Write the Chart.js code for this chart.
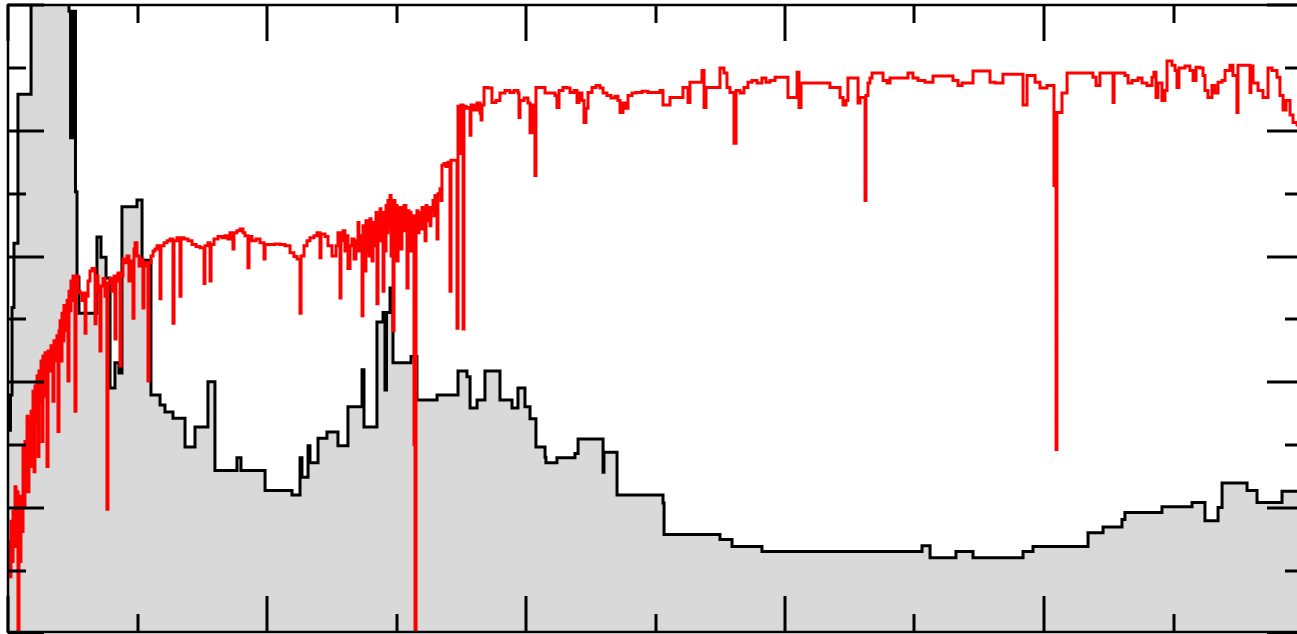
<!DOCTYPE html>
<html>
<head>
<meta charset="utf-8">
<script src="https://cdn.jsdelivr.net/npm/chart.js@4/dist/chart.umd.min.js"></script>
<style>
  html, body { margin: 0; padding: 0; background: #ffffff; overflow: hidden; }
  #wrap { position: absolute; left: 0; top: 0; width: 1305px; height: 634px; }
</style>
</head>
<body>
<div id="wrap"><canvas id="chart"></canvas></div>
<script>
// Axis tick positions (no labels are drawn; even values get long ticks)
const xTickValues = [0, 1, 2, 3, 4, 5, 6, 7, 8, 9, 10];
const yTickValues = [0, 1, 2, 3, 4, 5, 6, 7, 8, 9, 10];

// Grey histogram: each x is where a new level starts
const histX = [
  0, 0.019, 0.031, 0.046, 0.077, 0.178, 0.471, 0.483, 0.490, 0.502,
  0.510, 0.521, 0.533, 0.548, 0.687, 0.718, 0.757, 0.788, 0.826, 0.857,
  0.880, 0.996, 1.035, 1.104, 1.174, 1.212, 1.274, 1.367, 1.444, 1.544,
  1.598, 1.768, 1.799, 1.985, 2.193, 2.255, 2.270, 2.317, 2.332, 2.394,
  2.463, 2.548, 2.625, 2.734, 2.749, 2.849, 2.896, 2.911, 2.923, 2.950,
  2.973, 3.112, 3.158, 3.313, 3.475, 3.544, 3.568, 3.622, 3.683, 3.799,
  3.892, 3.938, 3.992, 4.031, 4.077, 4.147, 4.154, 4.239, 4.378, 4.402,
  4.595, 4.602, 4.703, 5.058, 5.066, 5.498, 5.591, 5.822, 7.058, 7.120,
  7.320, 7.452, 7.838, 7.915, 8.340, 8.456, 8.602, 8.625, 8.911, 9.143,
  9.243, 9.344, 9.375, 9.568, 9.645, 9.838, 10.0
];
const histY = [
  3.24, 3.80, 5.19, 6.21, 8.58, 10.6, 9.90, 7.89, 9.90, 7.89,
  9.90, 7.03, 5.67, 5.10, 6.31, 5.99, 5.66, 3.91, 4.31, 4.15,
  6.79, 6.90, 5.94, 3.80, 3.64, 3.53, 3.43, 2.97, 3.29, 4.01,
  2.60, 2.80, 2.60, 2.28, 2.21, 2.80, 2.49, 2.99, 2.72, 3.11,
  3.21, 2.99, 3.61, 4.20, 3.29, 4.96, 5.11, 3.88, 5.11, 5.50,
  4.31, 4.41, 3.72, 3.80, 4.18, 4.09, 3.59, 3.72, 4.18, 3.72,
  3.59, 3.91, 3.61, 3.42, 2.97, 2.81, 2.72, 2.80, 2.87, 3.10,
  2.57, 2.89, 2.21, 2.08, 1.58, 1.50, 1.39, 1.31, 1.40, 1.21,
  1.31, 1.21, 1.31, 1.39, 1.61, 1.70, 1.82, 1.93, 2.02, 2.09,
  1.80, 2.01, 2.40, 2.28, 2.09, 2.27, 2.27
];

// Red spectrum: each x is where a new level starts
const specX = [
  0, 0.008, 0.015, 0.023, 0.031, 0.039, 0.046, 0.054, 0.062, 0.069,
  0.077, 0.085, 0.093, 0.100, 0.108, 0.116, 0.124, 0.131, 0.139, 0.147,
  0.154, 0.162, 0.170, 0.178, 0.185, 0.193, 0.201, 0.208, 0.216, 0.224,
  0.232, 0.239, 0.247, 0.255, 0.263, 0.270, 0.278, 0.286, 0.293, 0.301,
  0.309, 0.324, 0.332, 0.347, 0.355, 0.371, 0.378, 0.386, 0.394, 0.402,
  0.409, 0.417, 0.425, 0.432, 0.448, 0.456, 0.463, 0.471, 0.479, 0.486,
  0.494, 0.502, 0.510, 0.517, 0.525, 0.533, 0.541, 0.556, 0.571, 0.587,
  0.595, 0.602, 0.618, 0.633, 0.649, 0.672, 0.680, 0.695, 0.710, 0.718,
  0.734, 0.749, 0.764, 0.772, 0.788, 0.803, 0.819, 0.826, 0.834, 0.849,
  0.865, 0.873, 0.888, 0.903, 0.919, 0.934, 0.950, 0.965, 0.973, 0.981,
  0.996, 1.012, 1.027, 1.042, 1.050, 1.066, 1.081, 1.089, 1.104, 1.120,
  1.135, 1.151, 1.174, 1.181, 1.205, 1.228, 1.251, 1.274, 1.282, 1.305,
  1.328, 1.336, 1.359, 1.390, 1.421, 1.452, 1.483, 1.514, 1.521, 1.544,
  1.560, 1.568, 1.591, 1.622, 1.653, 1.676, 1.699, 1.714, 1.737, 1.745,
  1.768, 1.792, 1.815, 1.830, 1.853, 1.861, 1.884, 1.915, 1.946, 1.977,
  1.985, 2.023, 2.062, 2.100, 2.139, 2.178, 2.208, 2.232, 2.255, 2.263,
  2.286, 2.309, 2.332, 2.363, 2.386, 2.409, 2.417, 2.448, 2.471, 2.502,
  2.533, 2.548, 2.564, 2.571, 2.587, 2.602, 2.618, 2.625, 2.641, 2.656,
  2.672, 2.687, 2.703, 2.710, 2.718, 2.734, 2.741, 2.749, 2.757, 2.764,
  2.772, 2.780, 2.788, 2.795, 2.803, 2.811, 2.819, 2.834, 2.842, 2.849,
  2.857, 2.865, 2.873, 2.880, 2.888, 2.896, 2.903, 2.911, 2.919, 2.927,
  2.934, 2.942, 2.950, 2.958, 2.965, 2.973, 2.981, 2.988, 2.996, 3.004,
  3.012, 3.019, 3.027, 3.035, 3.042, 3.050, 3.058, 3.073, 3.081, 3.089,
  3.097, 3.104, 3.112, 3.120, 3.135, 3.143, 3.151, 3.158, 3.166, 3.174,
  3.181, 3.197, 3.205, 3.220, 3.228, 3.236, 3.251, 3.259, 3.266, 3.282,
  3.290, 3.297, 3.313, 3.320, 3.336, 3.344, 3.351,
  3.367, 3.382, 3.398, 3.413, 3.421, 3.444,
  3.467, 3.475, 3.490, 3.498, 3.514, 3.521, 3.537, 3.552, 3.568, 3.575,
  3.598, 3.622, 3.645, 3.653, 3.660, 3.676, 3.707, 3.737, 3.768, 3.799,
  3.838, 3.876, 3.907, 3.938, 3.946, 3.954, 3.985, 4.015, 4.031, 4.046,
  4.069, 4.077, 4.108, 4.147, 4.185, 4.224, 4.239, 4.255, 4.286, 4.317,
  4.340, 4.371, 4.394, 4.409, 4.432, 4.448, 4.463, 4.479, 4.510, 4.541,
  4.571, 4.595, 4.625, 4.656, 4.687, 4.710, 4.726, 4.749, 4.772, 4.788,
  4.819, 4.849, 4.896, 4.942, 4.996, 5.035, 5.058, 5.112, 5.212, 5.251,
  5.266, 5.359, 5.375, 5.390, 5.498, 5.529, 5.552, 5.575, 5.606, 5.622,
  5.653, 5.683, 5.714, 5.745, 5.784, 5.822, 5.853, 5.884, 5.923, 6.000,
  6.023, 6.093, 6.108, 6.124, 6.232, 6.347, 6.425, 6.448, 6.471, 6.486,
  6.564, 6.579, 6.618, 6.625, 6.641, 6.656, 6.672, 6.757, 6.788, 6.811,
  6.950, 6.988, 7.027, 7.081, 7.143, 7.297, 7.336, 7.367, 7.452, 7.583,
  7.622, 7.683, 7.838, 7.869, 7.931, 7.969, 8.023, 8.077, 8.093, 8.100,
  8.139, 8.178, 8.378, 8.402, 8.432, 8.533, 8.541, 8.625, 8.649, 8.680,
  8.726, 8.757, 8.795, 8.834, 8.849, 8.865, 8.880, 8.911, 8.934, 8.950,
  8.988, 9.012, 9.027, 9.042, 9.089, 9.127, 9.151, 9.174, 9.205, 9.228,
  9.243, 9.266, 9.297, 9.320, 9.344, 9.375, 9.398, 9.436, 9.459, 9.490,
  9.498, 9.552, 9.591, 9.598, 9.614, 9.653, 9.691, 9.730, 9.761, 9.799,
  9.822, 9.846, 9.869, 9.900, 9.923, 9.954, 10.0
];
const specY = [
  1.15, 1.47, 0.91, 1.79, 1.15, 1.95, 1.39, 2.34, 2.11, 2.26,
  -0.2, 2.19, 1.15, 2.11, 1.63, 2.98, 2.03, 3.06, 2.58, 3.46,
  2.26, 3.38, 3.06, 3.54, 2.66, 3.86, 2.58, 3.94, 3.38, 4.10,
  2.82, 4.18, 3.70, 4.34, 3.06, 4.42, 3.78, 4.47, 4.02, 2.66,
  4.50, 4.18, 4.58, 3.70, 4.66, 4.34, 4.74, 3.22, 4.82, 4.98,
  4.34, 5.10, 4.66, 5.22, 4.82, 5.30, 4.02, 5.45, 5.14, 5.61,
  5.30, 5.69, 5.53, 3.54, 5.58, 5.69, 5.45, 5.42, 5.30, 5.42,
  4.78, 5.37, 5.61, 5.77, 5.81, 4.93, 5.69, 5.45, 4.50, 5.53,
  5.65, 5.37, 1.98, 5.58, 5.65, 5.45, 5.69, 4.69, 5.61, 5.74,
  4.26, 5.69, 5.96, 5.90, 6.01, 5.61, 5.93, 5.02, 6.12, 6.22,
  6.01, 5.85, 5.96, 5.18, 5.90, 5.85, 4.02, 5.90, 6.01, 6.09,
  6.12, 6.17, 5.33, 6.17, 6.22, 6.25, 6.28, 4.94, 6.25, 6.30,
  5.37, 6.30, 6.28, 6.25, 6.19, 6.16, 6.14, 5.57, 6.17, 6.22,
  5.61, 6.19, 6.28, 6.32, 6.30, 6.33, 6.28, 6.38, 6.12, 6.38,
  6.41, 6.44, 6.38, 6.33, 5.82, 6.32, 6.25, 6.28, 6.22, 5.96,
  6.19, 6.19, 6.20, 6.19, 6.17, 6.06, 6.00, 5.96, 5.10, 6.01,
  6.17, 6.25, 6.30, 6.33, 6.38, 5.98, 6.36, 6.32, 6.17, 6.01,
  6.17, 6.38, 5.34, 6.25, 6.41, 6.09, 6.33, 5.81, 6.17, 6.28,
  5.96, 6.25, 6.54, 6.09, 6.33, 5.06, 6.49, 6.17, 5.77, 6.57,
  6.09, 6.38, 6.01, 6.60, 6.25, 5.93, 6.54, 6.17, 6.70, 5.25,
  6.65, 6.25, 6.76, 6.33, 6.54, 5.45, 6.70, 6.09, 6.81, 6.38,
  6.89, 6.49, 6.97, 6.01, 6.81, 4.82, 6.89, 6.25, 6.81, 5.93,
  6.73, 6.41, 6.78, 6.12, 6.70, 6.41, 6.81, 6.57, 5.50, 6.73,
  6.28, 6.70, 6.09, 6.65, 3.01, -0.2, 6.60, 6.73, 6.38, 6.70,
  6.44, 6.78, 6.54, 6.25, 6.81, 6.57, 6.78, 6.49, 6.73, 6.89,
  6.65, 6.97, 6.28, 7.00, 7.08, 6.89, 7.45,
  7.48, 7.43, 7.50, 5.45, 7.53, 7.53,
  4.86, 8.39, 7.64, 8.41, 4.85, 8.39, 8.36, 8.37, 7.93, 8.41,
  8.33, 8.44, 8.28, 8.17, 8.41, 8.69, 8.68, 8.45, 8.48, 8.60,
  8.64, 8.61, 8.64, 8.60, 8.21, 8.48, 8.52, 8.44, 7.97, 8.41,
  7.29, 8.69, 8.69, 8.60, 8.60, 8.56, 8.37, 8.64, 8.69, 8.68,
  8.61, 8.64, 8.45, 8.60, 8.48, 8.13, 8.36, 8.61, 8.69, 8.72,
  8.68, 8.60, 8.56, 8.52, 8.55, 8.48, 8.29, 8.44, 8.36, 8.56,
  8.60, 8.61, 8.63, 8.61, 8.61, 8.64, 8.41, 8.53, 8.69, 8.45,
  8.77, 8.96, 8.37, 8.69, 9.00, 8.92, 8.69, 8.61, 7.80, 8.64,
  8.60, 8.69, 8.77, 8.80, 8.76, 8.84, 8.77, 8.80, 8.85, 8.85,
  8.53, 8.93, 8.37, 8.76, 8.76, 8.69, 8.53, 8.41, 8.48, 8.84,
  8.44, 8.53, 6.89, 8.56, 8.76, 8.84, 8.92, 8.80, 8.76, 8.84,
  8.92, 8.84, 8.80, 8.77, 8.87, 8.80, 8.72, 8.76, 8.95, 8.77,
  8.76, 8.90, 8.41, 8.88, 8.77, 8.68, 8.72, 7.13, 2.93, 8.29,
  8.60, 8.92, 8.85, 8.72, 8.92, 8.45, 8.92, 8.88, 8.76, 8.80,
  8.84, 8.76, 8.72, 8.85, 8.93, 8.53, 8.76, 8.48, 8.64, 9.11,
  9.04, 8.96, 8.69, 9.00, 9.03, 8.96, 8.80, 9.01, 9.00, 8.88,
  8.64, 8.53, 8.72, 8.60, 8.77, 8.80, 8.96, 9.04, 8.88, 8.29,
  9.04, 9.04, 8.61, 9.03, 8.76, 8.64, 8.53, 9.00, 8.96, 8.85,
  8.56, 8.33, 8.48, 8.25, 8.13, 8.09, 8.17
];

function toPoints(xs, ys) {
  const n = Math.min(xs.length, ys.length);
  const pts = [];
  for (let i = 0; i < n; i++) pts.push({ x: xs[i], y: ys[i] });
  return pts;
}

// Frame with inward ticks on all four sides, placed through the chart's scales
const framePlugin = {
  id: 'frame',
  afterDatasetsDraw(chart) {
    const { ctx, chartArea: a, scales } = chart;
    const major = 36, minor = 18;
    ctx.save();
    ctx.strokeStyle = '#000000';
    ctx.lineWidth = 3;
    ctx.lineCap = 'butt';
    ctx.beginPath();
    xTickValues.forEach((v) => {
      const px = Math.round(scales.x.getPixelForValue(v));
      const len = v % 2 === 0 ? major : minor;
      ctx.moveTo(px, a.top); ctx.lineTo(px, a.top + len);
      ctx.moveTo(px, a.bottom); ctx.lineTo(px, a.bottom - len);
    });
    yTickValues.forEach((v) => {
      const py = Math.round(scales.y.getPixelForValue(v));
      const len = v % 2 === 0 ? major : minor;
      ctx.moveTo(a.left, py); ctx.lineTo(a.left + len, py);
      ctx.moveTo(a.right, py); ctx.lineTo(a.right - len, py);
    });
    ctx.stroke();
    ctx.lineWidth = 2.5;
    ctx.strokeRect(a.left, a.top, a.right - a.left, a.bottom - a.top);
    ctx.restore();
  }
};

new Chart(document.getElementById('chart'), {
  type: 'line',
  data: {
    datasets: [
      {
        data: toPoints(specX, specY),
        borderColor: '#ff0000',
        borderWidth: 3,
        stepped: 'before',
        fill: false,
        pointRadius: 0,
        borderJoinStyle: 'miter',
        borderCapStyle: 'butt',
        clip: 0,
        order: 0
      },
      {
        data: toPoints(histX, histY),
        borderColor: '#000000',
        backgroundColor: '#d9d9d9',
        borderWidth: 3,
        stepped: 'before',
        fill: 'origin',
        pointRadius: 0,
        borderJoinStyle: 'miter',
        borderCapStyle: 'butt',
        clip: 0,
        order: 1
      }
    ]
  },
  options: {
    responsive: true,
    maintainAspectRatio: false,
    animation: false,
    events: [],
    layout: { padding: { left: 8, top: 5, right: 2, bottom: 2 } },
    scales: {
      x: { type: 'linear', min: 0, max: 10, display: false },
      y: { type: 'linear', min: 0.03, max: 10, display: false }
    },
    plugins: {
      legend: { display: false },
      tooltip: { enabled: false }
    }
  },
  plugins: [framePlugin]
});
</script>
</body>
</html>
